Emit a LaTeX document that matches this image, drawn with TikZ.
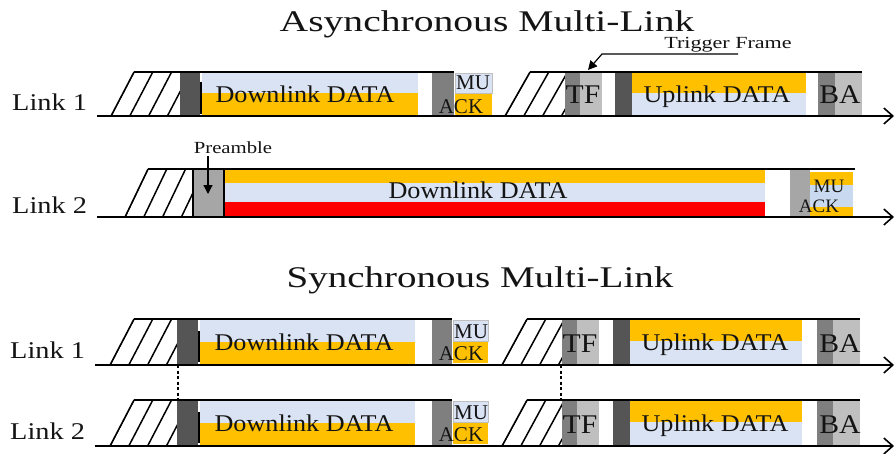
\documentclass[tikz,border=0pt]{standalone}
\usepackage{fontspec}
\setmainfont{Liberation Serif}
\usetikzlibrary{arrows.meta}
\definecolor{lblue}{HTML}{DAE3F3}
\definecolor{orng}{HTML}{FFC000}
\definecolor{rd}{HTML}{FF0000}
\definecolor{dgray}{HTML}{555555}
\definecolor{mgray}{HTML}{7F7F7F}
\definecolor{lgray}{HTML}{BFBFBF}
\definecolor{pgray}{HTML}{A6A6A6}
\definecolor{mublue}{HTML}{C9DAF0}
\definecolor{txt}{HTML}{141414}
\newcommand\sx[2]{\scalebox{#1}[1]{#2}}
\tikzset{
  frameline/.style={line width=1.6pt, black},
  hatchline/.style={line width=1.5pt, black},
  axisline/.style={line width=1.6pt, black, -{Straight Barb[length=9pt,width=16pt]}},
  titletxt/.style={font=\fontsize{30}{30}\selectfont, inner sep=0pt, text=txt},
  linktxt/.style={font=\fontsize{24}{24}\selectfont, inner sep=0pt, text=txt},
  datatxt/.style={font=\fontsize{24}{24}\selectfont, inner sep=0pt, text=txt},
  smalltxt/.style={font=\fontsize{21}{21}\selectfont, inner sep=0pt, text=txt},
  ministxt/.style={font=\fontsize{19}{19}\selectfont, inner sep=0pt, text=txt},
  blocktxt/.style={font=\fontsize{27}{27}\selectfont, inner sep=0pt, text=txt},
  notetxt/.style={font=\fontsize{17}{17}\selectfont, inner sep=0pt, text=txt},
  pointer/.style={line width=1.2pt, black, -{Triangle[length=9pt,width=9pt]}},
  syncdash/.style={line width=1.3pt, black, dash pattern=on 3pt off 2.5pt},
  mubox/.style={fill=lblue, draw=lgray, line width=0.8pt},
}
% #1 bottom-left x, #2 top-left x, #3 right x, #4 top y, #5 bottom y
\newcommand\hatchzone[5]{%
  \begin{scope}
    \clip (#1,#5) -- (#2,#4) -- (#3,#4) -- (#3,#5) -- cycle;
    \foreach \k in {0,...,4} {\draw[hatchline] (#1+\k*18.8,#5) -- (#2+\k*18.8,#4);}
  \end{scope}
  \draw[hatchline] (#1,#5) -- (#2,#4);
}
\newcommand\syncrow[3]{%
  \hatchzone{110}{134}{177}{319}{365}
  \fill[dgray] (177,319) rectangle (198,365);
  \draw[line width=2pt] (199,331) -- (199,362);
  \fill[lblue] (200,319) rectangle (415,342);
  \fill[orng] (200,342) rectangle (415,364);
  \fill[mgray] (432,319) rectangle (452,365);
  \filldraw[mubox] (453,320) rectangle (488,341);
  \fill[orng] (453,342) rectangle (488,363);
  \draw[frameline] (134,319) -- (452,319);
  \hatchzone{502}{527}{562}{319}{365}
  \fill[mgray] (562,319) rectangle (577,365);
  \fill[lgray] (577,319) rectangle (599,365);
  \fill[dgray] (613,319) rectangle (630,365);
  \fill[orng] (630,319) rectangle (802,341);
  \fill[lblue] (630,341) rectangle (802,364);
  \fill[mgray] (817,319) rectangle (833,365);
  \fill[lgray] (833,319) rectangle (860,365);
  \draw[frameline] (527,319) -- (860,319);
  \coordinate (s#1a) at (95,365);
  \coordinate (s#1b) at (894,365);
  \coordinate (s#1p) at (178,319);
  \coordinate (s#1q) at (178,365);
  \coordinate (s#1t) at (561,319);
  \coordinate (s#1r) at (561,365);
  \draw[axisline] (s#1a) -- (s#1b);
  \node[linktxt, anchor=base west] (s#1lbl) at (10,#3) {\sx{1.18}{#2}};
  \node[datatxt, anchor=base] (s#1dl) at (304,350) {\sx{1.09}{Downlink DATA}};
  \node[smalltxt, anchor=base] (s#1mu) at (471,338) {MU};
  \node[smalltxt, anchor=base] (s#1ack) at (461,360) {ACK};
  \node[blocktxt, anchor=base] (s#1tf) at (580,352) {\sx{1.1}{TF}};
  \node[datatxt, anchor=base] (s#1ul) at (715,350) {\sx{1.09}{Uplink DATA}};
  \node[blocktxt, anchor=base] (s#1ba) at (840,352) {\sx{1.1}{BA}};
}
\begin{document}
\begin{tikzpicture}[x=1pt,y=-1pt]
\useasboundingbox (0,0) rectangle (896,453);

% titles
\node[titletxt, anchor=base] (title1) at (487,31) {\sx{1.32}{Asynchronous Multi-Link}};
\node[titletxt, anchor=base] (title2) at (480,287) {\sx{1.3}{Synchronous Multi-Link}};

% ---------- Asynchronous, Link 1 ----------
\hatchzone{111}{134}{180}{72}{116}
\fill[dgray] (180,72) rectangle (200,116);
\draw[line width=2pt] (201,82) -- (201,114);
\fill[lblue] (202,72) rectangle (418,93);
\fill[orng] (202,93) rectangle (418,116);
\fill[mgray] (432,72) rectangle (454,116);
\filldraw[mubox] (455,73) rectangle (492,93);
\fill[orng] (455,94) rectangle (492,115);
\draw[frameline] (134,72) -- (454,72);

\hatchzone{505}{530}{565}{72}{116}
\fill[mgray] (565,72) rectangle (580,116);
\fill[lgray] (580,72) rectangle (602,116);
\fill[dgray] (615,72) rectangle (632,116);
\fill[orng] (632,72) rectangle (806,93);
\fill[lblue] (632,93) rectangle (806,116);
\fill[mgray] (818,72) rectangle (835,116);
\fill[lgray] (835,72) rectangle (862,116);
\draw[frameline] (530,72) -- (862,72);

\coordinate (a1a) at (97,116);
\coordinate (a1b) at (894,116);
\draw[axisline] (a1a) -- (a1b);

\node[linktxt, anchor=base west] (a1lbl) at (12,110) {\sx{1.18}{Link 1}};
\node[datatxt, anchor=base] (a1dl) at (305,102) {\sx{1.09}{Downlink DATA}};
\node[smalltxt, anchor=base] (a1mu) at (473,89) {MU};
\node[smalltxt, anchor=base] (a1ack) at (461,113) {ACK};
\node[blocktxt, anchor=base] (a1tf) at (583,103) {\sx{1.1}{TF}};
\node[datatxt, anchor=base] (a1ul) at (717,102) {\sx{1.09}{Uplink DATA}};
\node[blocktxt, anchor=base] (a1ba) at (840,103) {\sx{1.1}{BA}};

% trigger frame pointer
\node[notetxt, anchor=base] (tflbl) at (728,48) {\sx{1.3}{Trigger Frame}};
\coordinate (tfa) at (738,54);
\coordinate (tfk) at (602,54);
\coordinate (tfz) at (588,70);
\draw[pointer] (tfa) -- (tfk) -- (tfz);

% ---------- Asynchronous, Link 2 ----------
\hatchzone{125}{148}{193}{169}{217}
\filldraw[fill=pgray, draw=black, line width=1.2pt] (193,169) rectangle (224,217);
\fill[orng] (225,170) rectangle (765,183);
\fill[lblue] (225,183) rectangle (765,202);
\fill[rd] (225,202) rectangle (765,216);
\fill[pgray] (790,170) rectangle (810,216);
\fill[orng] (810,172) rectangle (853,216);
\fill[mublue] (810,185) rectangle (853,207);
\draw[frameline] (148,169) -- (855,169);
\coordinate (a2a) at (97,217);
\coordinate (a2b) at (894,217);
\draw[axisline] (a2a) -- (a2b);

\node[linktxt, anchor=base west] (a2lbl) at (12,213) {\sx{1.18}{Link 2}};
\node[datatxt, anchor=base] (a2dl) at (478,198) {\sx{1.09}{Downlink DATA}};
\node[ministxt, anchor=base] (a2mu) at (829,192) {MU};
\node[ministxt, anchor=base] (a2ack) at (819,212) {ACK};

\node[notetxt, anchor=base] (prelbl) at (233,153) {\sx{1.22}{Preamble}};
\coordinate (prea) at (208,156);
\coordinate (preb) at (208,194);
\draw[pointer] (prea) -- (preb);

% ---------- Synchronous ----------
\syncrow{1}{Link 1}{358}
\begin{scope}[yshift=-81pt]
\syncrow{2}{Link 2}{358}
\end{scope}
\draw[syncdash] (s1q) -- (s2p);
\draw[syncdash] (s1r) -- (s2t);
\end{tikzpicture}
\end{document}
